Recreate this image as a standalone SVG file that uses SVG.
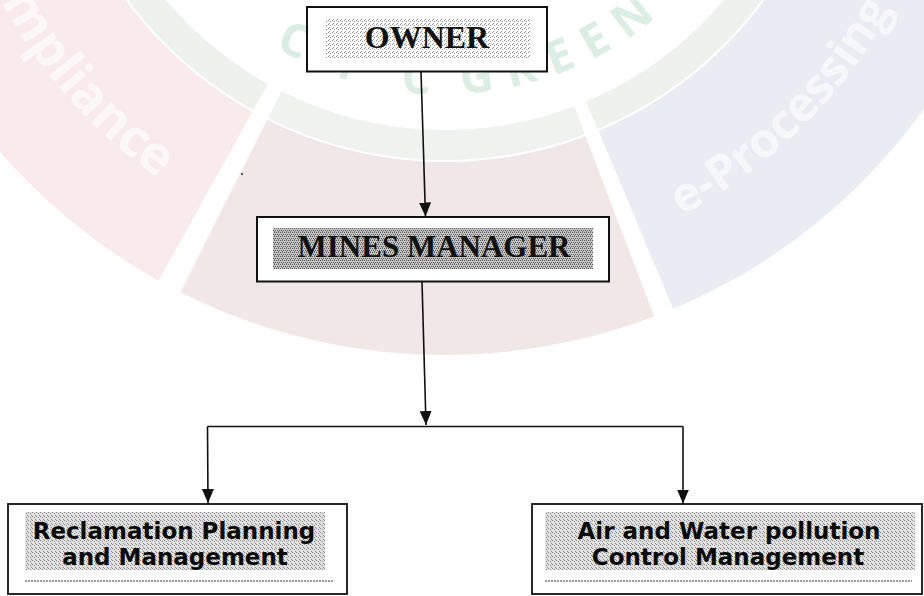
<svg xmlns="http://www.w3.org/2000/svg" width="924" height="596" viewBox="0 0 924 596">
  <style>
    .box { fill: #ffffff; stroke: #111111; stroke-width: 2; }
    .bbox { fill: #ffffff; stroke: #111111; stroke-width: 1.8; }
    .conn { fill: none; stroke: #111111; stroke-width: 1.6; }
    .serif { font-family: "Liberation Serif", "Times New Roman", serif; font-weight: bold; fill: #111111; text-anchor: middle; }
    .sans { font-family: "DejaVu Sans", Verdana, sans-serif; font-weight: bold; font-size: 23px; fill: #0a0a0a; text-anchor: middle; }
    .wm { font-family: "Open Sans", "Noto Sans", sans-serif; font-weight: 700; }
    .dots { fill: none; stroke: #7a7a7a; stroke-width: 1.5; stroke-dasharray: 2 1; }
  </style>
  <defs>
    <pattern id="spLight" patternUnits="userSpaceOnUse" width="4" height="4">
      <rect width="4" height="4" fill="#ffffff"/>
      <rect x="0" y="0" width="1" height="1" fill="#8a8a8a"/>
      <rect x="2" y="1" width="1" height="1" fill="#8a8a8a"/>
      <rect x="1" y="3" width="1" height="1" fill="#9a9a9a"/>
    </pattern>
    <pattern id="spDark" patternUnits="userSpaceOnUse" width="4" height="4">
      <rect width="4" height="4" fill="#c4c4c4"/>
      <rect x="0" y="0" width="1" height="1" fill="#555555"/>
      <rect x="2" y="0" width="1" height="1" fill="#666666"/>
      <rect x="1" y="2" width="1" height="1" fill="#555555"/>
      <rect x="3" y="2" width="1" height="1" fill="#666666"/>
      <rect x="2" y="3" width="1" height="1" fill="#777777"/>
    </pattern>
    <pattern id="spMid" patternUnits="userSpaceOnUse" width="4" height="4">
      <rect width="4" height="4" fill="#e0e0e0"/>
      <rect x="0" y="0" width="1" height="1" fill="#888888"/>
      <rect x="2" y="1" width="1" height="1" fill="#888888"/>
      <rect x="3" y="3" width="1" height="1" fill="#8c8c8c"/>
    </pattern>
    <marker id="arr" viewBox="0 0 14 12" refX="14" refY="6" markerWidth="14" markerHeight="12" markerUnits="userSpaceOnUse" orient="auto">
      <path d="M0,0 L14,6 L0,12 Z" fill="#111111"/>
    </marker>
    <path id="arcCpc" d="M161 -70 A 328 328 0 0 0 729 -70"/>
    <path id="arcComp" d="M-55.1 -190.2 A 502 502 0 0 0 357.8 260.4"/>
    <path id="arcProc" d="M445 274 A 508 508 0 0 0 953 -234"/>
  </defs>

  <rect width="924" height="596" fill="#ffffff"/>

  <g id="watermark">
    <path d="M158.6 280.7 A 589 589 0 0 1 -108.5 -435.4 L 72.9 -369.4 A 396 396 0 0 0 252.4 112 Z" fill="#f9ebeb"/>
    <path d="M654.2 316.6 A 589 589 0 0 1 180.4 292.2 L 267.1 119.8 A 396 396 0 0 0 585.6 136.2 Z" fill="#f2e7e7"/>
    <path d="M998.5 -435.4 A 589 589 0 0 1 673.2 309 L 598.5 131.1 A 396 396 0 0 0 817.1 -369.4 Z" fill="#e9ecf2"/>
    <path d="M253.4 110.3 A 394 394 0 0 1 74.8 -368.7 L 102.9 -358.5 A 364 364 0 0 0 268 84.1 Z" fill="#eff1ed"/>
    <path d="M584.9 134.3 A 394 394 0 0 1 268 118 L 281.5 91.2 A 364 364 0 0 0 574.3 106.3 Z" fill="#f0f2ee"/>
    <path d="M815.2 -368.7 A 394 394 0 0 1 597.7 129.2 L 586.1 101.6 A 364 364 0 0 0 787.1 -358.5 Z" fill="#eff1ed"/>
    <text class="wm" font-size="52" fill="#fdf8f8" text-anchor="end"><textPath href="#arcComp" startOffset="440">Compliance</textPath></text>
    <text class="wm" font-size="48" fill="#f6f7fa"><textPath href="#arcProc" startOffset="246">e-Processing</textPath></text>
    <text class="wm" font-size="46" fill="#dcede4" letter-spacing="38"><textPath href="#arcCpc" startOffset="165">CPC</textPath></text>
    <text class="wm" font-size="46" fill="#dcede4" letter-spacing="15"><textPath href="#arcCpc" startOffset="360">GREEN</textPath></text>
  </g>

  <circle cx="242" cy="174" r="1" fill="#222222"/>

  <g id="connectors">
    <path class="conn" d="M421 72 L425.5 216.5" marker-end="url(#arr)"/>
    <path class="conn" d="M422 282 L426 425" marker-end="url(#arr)"/>
    <path class="conn" d="M207.5 426.5 L683 426.5"/>
    <path class="conn" d="M207.5 426.5 L208 503" marker-end="url(#arr)"/>
    <path class="conn" d="M683 426.5 L683 503.5" marker-end="url(#arr)"/>
  </g>

  <g id="owner">
    <rect class="box" x="307" y="7" width="240" height="64.5"/>
    <rect x="326" y="19" width="204" height="40" fill="url(#spLight)"/>
    <text class="serif" x="427" y="48" font-size="32">OWNER</text>
  </g>

  <g id="mines-manager">
    <rect class="box" x="257" y="217" width="352" height="64.5"/>
    <rect x="273" y="228" width="320" height="41" fill="url(#spDark)"/>
    <text class="serif" x="434" y="257" font-size="31">MINES MANAGER</text>
  </g>

  <g id="reclamation">
    <rect class="bbox" x="8" y="504" width="339" height="90"/>
    <rect x="25" y="512" width="300" height="58" fill="url(#spMid)"/>
    <line class="dots" x1="25" y1="581" x2="333" y2="581"/>
    <text class="sans" x="174" y="539">Reclamation Planning</text>
    <text class="sans" x="175" y="565">and Management</text>
  </g>

  <g id="pollution">
    <rect class="bbox" x="532" y="504" width="390" height="90"/>
    <rect x="545" y="512" width="370" height="58" fill="url(#spMid)"/>
    <line class="dots" x1="545" y1="581" x2="912" y2="581"/>
    <text class="sans" x="729" y="539">Air and Water pollution</text>
    <text class="sans" x="728" y="565">Control Management</text>
  </g>
</svg>
